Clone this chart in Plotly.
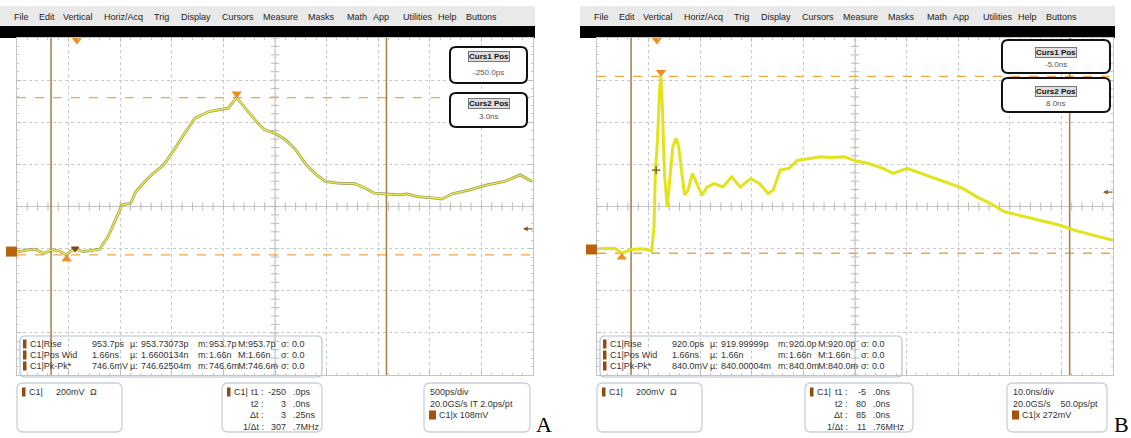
import numpy as np
import plotly.graph_objects as go

W, H = 1131, 438
FONT = "Liberation Sans"

# ---------------- data ----------------
menu_items = ["File", "Edit", "Vertical", "Horiz/Acq", "Trig", "Display", "Cursors",
              "Measure", "Masks", "Math", "App", "Utilities", "Help", "Buttons"]
menu_x = [12, 37, 61, 102, 152, 179, 220, 261, 306, 345, 371, 401, 436, 464]

# Panel A : time (ns), voltage (mV)
a_t = [-0.58, -0.556, -0.48, -0.405, -0.321, -0.236, -0.17, -0.10, -0.05, -0.017, 0.067, 0.14,
       0.219, 0.303, 0.387, 0.438, 0.522, 0.572, 0.673, 0.741, 0.842, 0.943, 1.044, 1.145,
       1.28, 1.381, 1.465, 1.549, 1.65, 1.752, 1.819, 1.92, 2.021, 2.122, 2.223, 2.324,
       2.409, 2.526, 2.695, 2.796, 2.88, 2.998, 3.133, 3.2, 3.301, 3.47, 3.537, 3.638,
       3.807, 3.975, 4.144, 4.295, 4.413]
a_v = [2, 0, 8, 11, -8, 8, 4, -16, 6, 11, 0, 6,
       11, 71, 166, 222, 230, 285, 340, 372, 412, 483, 562, 634,
       665, 673, 681, 730.6, 673, 610, 578, 562, 531, 483, 412, 364,
       333, 325, 322, 301, 277, 274, 269, 274, 261, 254, 249, 274,
       293, 317, 333, 364, 333]

# Panel B : time (ns), voltage (mV)
b_t = [-11.6, -10, -8.1, -6.8, -4.86, -2.7, -1.02, -0.55, -0.28, 0.12, 0.53, 0.80, 1.07,
       1.47, 2.01, 2.55, 3.09, 3.70, 4.24, 4.84, 5.38, 6.06, 6.86, 7.74, 8.75, 9.76,
       11.11, 12.8, 14.48, 16.16, 18.18, 19.87, 21.55, 22.56, 23.91, 25.6, 27.28, 29.64,
       31.66, 33.68, 36.38, 38.4, 41.1, 43.8, 45.81, 48.5, 51.2, 53.9, 56.6, 59.3, 62.0,
       64.7, 67.4, 70.07, 72.77, 75.46, 78.16, 80.85, 83.55, 86.24, 88.4]
b_v = [2, 6, 5, -18, 0, 3, -7, 107, 377, 519, 757, 822, 677,
       361, 202, 329, 487, 527, 487, 361, 258, 282, 361, 313, 258, 297,
       313, 297, 345, 297, 337, 313, 266, 282, 377, 385, 424, 432,
       440, 437, 440, 421, 408, 385, 361, 385, 361, 337, 313, 290, 250,
       218, 179, 163, 147, 131, 115, 92, 76, 60, 44]

a_cursors = [-0.25, 3.0]
b_cursors = [-5.0, 80.0]
a_trig_level = 108
b_trig_level = 272
a_edge_mark = (-0.017, 14)
b_edge_mark = (-0.14, 377)

a_meas = [["Rise", "953.7ps", "953.73073p", "953.7p", "953.7p", "0.0"],
          ["Pos Wid", "1.66ns", "1.6600134n", "1.66n", "1.66n", "0.0"],
          ["Pk-Pk*", "746.6mV", "746.62504m", "746.6m", "746.6m", "0.0"]]
b_meas = [["Rise", "920.0ps", "919.99999p", "920.0p", "920.0p", "0.0"],
          ["Pos Wid", "1.66ns", "1.66n", "1.66n", "1.66n", "0.0"],
          ["Pk-Pk*", "840.0mV", "840.00004m", "840.0m", "840.0m", "0.0"]]

cur_labels = ["t1 :", "t2 :", "\u0394t :", "1/\u0394t :"]
a_cur_int = ["-250", "3", "3", "307"]
a_cur_frac = [".0ps", ".0ns", ".25ns", ".7MHz"]
b_cur_int = ["-5", "80", "85", "11"]
b_cur_frac = [".0ns", ".0ns", ".0ns", ".76MHz"]

a_curs_box = ["-250.0ps", "3.0ns"]
b_curs_box = ["-5.0ns", "8.0ns"]

a_horiz = ["500ps/div", "20.0GS/s IT 2.0ps/pt", "C1|x 108mV"]
b_horiz = ["10.0ns/div", "20.0GS/s    50.0ps/pt", "C1|x 272mV"]

# ---------------- helpers ----------------
def X(px):
    return px / W


def Y(py):
    return 1 - py / H


shapes = []
annotations = []


def txt(px, py, s, size=9, anchor="left", color="#333333", family=FONT, **kw):
    annotations.append(dict(x=X(px), y=Y(py), xref="paper", yref="paper", text=s,
                            showarrow=False, xanchor=anchor, yanchor="middle",
                            font=dict(size=size, color=color, family=family), **kw))


def rect(x0, y0, x1, y1, fill, line=None, lw=0, layer="above"):
    shapes.append(dict(type="rect", xref="paper", yref="paper", x0=X(x0), x1=X(x1),
                       y0=Y(y1), y1=Y(y0), fillcolor=fill,
                       line=dict(color=line or fill, width=lw), layer=layer))


def rrect(x0, y0, x1, y1, r, color, lw, fill="rgba(0,0,0,0)", layer="above"):
    def p(a, b):
        return f"{X(a):.5f},{Y(b):.5f}"
    path = (f"M{p(x0 + r, y0)} L{p(x1 - r, y0)} Q{p(x1, y0)} {p(x1, y0 + r)} "
            f"L{p(x1, y1 - r)} Q{p(x1, y1)} {p(x1 - r, y1)} L{p(x0 + r, y1)} "
            f"Q{p(x0, y1)} {p(x0, y1 - r)} L{p(x0, y0 + r)} Q{p(x0, y0)} {p(x0 + r, y0)} Z")
    shapes.append(dict(type="path", xref="paper", yref="paper", path=path,
                       line=dict(color=color, width=lw), fillcolor=fill, layer=layer))


fig = go.Figure()

GRID_TOP, GRID_BOT = 38, 375
NDIV_X, NDIV_Y = 10, 8
panels = [
    dict(name="A", off=0, t=a_t, v=a_v, tdiv=0.5, tleft=-0.58, vdiv=200, gdiv=-1.07,
         cursors=a_cursors, trig=a_trig_level, edge=a_edge_mark, meas=a_meas,
         cint=a_cur_int, cfrac=a_cur_frac, cbox=a_curs_box, horiz=a_horiz,
         xa="x", ya="y", xk="xaxis", yk="yaxis"),
    dict(name="B", off=580, t=b_t, v=b_v, tdiv=10, tleft=-11.6, vdiv=200, gdiv=-1.02,
         cursors=b_cursors, trig=b_trig_level, edge=b_edge_mark, meas=b_meas,
         cint=b_cur_int, cfrac=b_cur_frac, cbox=b_curs_box, horiz=b_horiz,
         xa="x2", ya="y2", xk="xaxis2", yk="yaxis2"),
]

layout_axes = {}
for P in panels:
    o = P["off"]
    gx0, gx1 = 17 + o, 533 + o
    tl = P["tleft"]
    tr = tl + NDIV_X * P["tdiv"]
    vlo = (-NDIV_Y / 2 - P["gdiv"]) * P["vdiv"]
    vhi = (NDIV_Y / 2 - P["gdiv"]) * P["vdiv"]
    vpx = (vhi - vlo) / (GRID_BOT - GRID_TOP)   # mV per pixel
    tpx = (tr - tl) / (gx1 - gx0)               # ns per pixel
    xa, ya = P["xa"], P["ya"]

    layout_axes[P["xk"]] = dict(
        domain=[X(gx0), X(gx1)], range=[tl, tr], anchor=ya,
        showgrid=True, gridcolor="#c9c9c9", griddash="dot", gridwidth=1,
        tick0=tl, dtick=P["tdiv"], ticks="inside", ticklen=4, tickcolor="#bdbdbd",
        minor=dict(tick0=tl, dtick=P["tdiv"] / 5, ticks="inside", ticklen=2,
                   tickcolor="#c8c8c8", showgrid=False),
        showline=True, linecolor="#c4c4c4", linewidth=1, mirror="ticks",
        showticklabels=False, zeroline=False, fixedrange=True)
    layout_axes[P["yk"]] = dict(
        domain=[Y(GRID_BOT), Y(GRID_TOP)], range=[vlo, vhi], anchor=xa,
        showgrid=True, gridcolor="#c9c9c9", griddash="dot", gridwidth=1,
        tick0=vlo, dtick=P["vdiv"], ticks="inside", ticklen=4, tickcolor="#bdbdbd",
        minor=dict(tick0=vlo, dtick=P["vdiv"] / 5, ticks="inside", ticklen=2,
                   tickcolor="#c8c8c8", showgrid=False),
        showline=True, linecolor="#c4c4c4", linewidth=1, mirror="ticks",
        showticklabels=False, zeroline=False, fixedrange=True)

    # ---- menu bar & black bar ----
    rect(0 + o, 6, 535 + o, 26, "#e9e9e9", layer="below")
    rect(0 + o, 26, 535 + o, 38, "#000000", layer="below")
    for w, mx in zip(menu_items, menu_x):
        txt(mx + o, 16.5, w, size=9, color="#222222")

    # ---- center cross with tick marks ----
    tc = (tl + tr) / 2
    vc = (vlo + vhi) / 2
    shapes.append(dict(type="line", xref=xa, yref=ya, x0=tl, x1=tr, y0=vc, y1=vc,
                       line=dict(color="#c2c2c2", width=1), layer="below"))
    shapes.append(dict(type="line", xref=xa, yref=ya, x0=tc, x1=tc, y0=vlo, y1=vhi,
                       line=dict(color="#c2c2c2", width=1), layer="below"))
    tt = np.arange(NDIV_X * 5 + 1) * P["tdiv"] / 5 + tl
    vv = np.arange(NDIV_Y * 5 + 1) * P["vdiv"] / 5 + vlo
    fig.add_trace(go.Scatter(x=tt, y=[vc] * len(tt), mode="markers", xaxis=xa, yaxis=ya,
                             marker=dict(symbol="line-ns", size=6,
                                         line=dict(color="#bcbcbc", width=1)),
                             hoverinfo="skip", showlegend=False))
    fig.add_trace(go.Scatter(x=[tc] * len(vv), y=vv, mode="markers", xaxis=xa, yaxis=ya,
                             marker=dict(symbol="line-ew", size=6,
                                         line=dict(color="#bcbcbc", width=1)),
                             hoverinfo="skip", showlegend=False))

    # ---- measurement box (bottom-left inside graticule) ----
    rrect(20 + o, 336, 322 + o, 377, 5, "#b4c2d6", 1.2, fill="rgba(255,255,255,0.75)",
          layer="between")

    # ---- pk-pk reference lines ----
    vmax, vmin = max(P["v"]), min(P["v"])
    tmax = P["t"][P["v"].index(vmax)]
    tmin = P["t"][P["v"].index(vmin)]
    for lv in (vmax, vmin):
        shapes.append(dict(type="line", xref=xa, yref=ya, x0=tl, x1=tr, y0=lv, y1=lv,
                           line=dict(color="#f2a640", width=1.3, dash="dash"),
                           layer="between"))
    # ---- cursors ----
    for c in P["cursors"]:
        shapes.append(dict(type="line", xref=xa, yref=ya, x0=c, x1=c, y0=vlo, y1=vhi,
                           line=dict(color="#a27b48", width=1.5), layer="between"))

    # ---- ground marker ----
    shapes.append(dict(type="rect", xref="paper", yref=ya, x0=X(6 + o), x1=X(17 + o),
                       y0=-5 * vpx, y1=5 * vpx, fillcolor="#b8620f",
                       line=dict(width=0), layer="above"))

    # ---- waveform ----
    if P["name"] == "A":
        fig.add_trace(go.Scatter(x=P["t"], y=P["v"], mode="lines", xaxis=xa, yaxis=ya,
                                 line=dict(color="rgba(110,110,40,0.7)", width=2.8),
                                 hoverinfo="skip", showlegend=False))
        fig.add_trace(go.Scatter(x=P["t"], y=P["v"], mode="lines", xaxis=xa, yaxis=ya,
                                 line=dict(color="#eded3a", width=1.4),
                                 hoverinfo="skip", showlegend=False))
    else:
        fig.add_trace(go.Scatter(x=P["t"], y=P["v"], mode="lines", xaxis=xa, yaxis=ya,
                                 line=dict(color="#e3e31c", width=3),
                                 hoverinfo="skip", showlegend=False))

    # ---- markers: peak / min / trigger / edge ----
    fig.add_trace(go.Scatter(x=[tmax], y=[vmax + 4 * vpx], mode="markers", xaxis=xa, yaxis=ya,
                             marker=dict(symbol="triangle-down", size=9, color="#f08c22"),
                             hoverinfo="skip", showlegend=False, cliponaxis=False))
    fig.add_trace(go.Scatter(x=[tmin], y=[vmin - 4 * vpx], mode="markers", xaxis=xa, yaxis=ya,
                             marker=dict(symbol="triangle-up", size=9, color="#f08c22"),
                             hoverinfo="skip", showlegend=False, cliponaxis=False))
    fig.add_trace(go.Scatter(x=[0], y=[vhi - 2 * vpx], mode="markers", xaxis=xa, yaxis=ya,
                             marker=dict(symbol="triangle-down", size=9, color="#f08c22"),
                             hoverinfo="skip", showlegend=False, cliponaxis=False))
    fig.add_trace(go.Scatter(x=[P["edge"][0]], y=[P["edge"][1]], mode="markers",
                             xaxis=xa, yaxis=ya,
                             marker=dict(symbol="triangle-down" if P["name"] == "A" else "cross-thin",
                                         size=6, color="#7a4a1a",
                                         line=dict(color="#7a4a1a", width=1.2)),
                             hoverinfo="skip", showlegend=False))
    # trigger level arrow on right edge
    annotations.append(dict(x=tr - 10 * tpx, y=P["trig"], xref=xa, yref=ya, text="",
                            showarrow=True, ax=11, ay=0, arrowhead=2, arrowsize=0.8,
                            arrowwidth=1.2, arrowcolor="#8a5a2a"))

    # ---- measurement text ----
    cols = [28, 90, 128, 139, 196, 207, 236, 246, 279, 290]
    for i, row in enumerate(P["meas"]):
        ry = 344 + 11 * i
        rect(23 + o, ry - 4.5, 26.5 + o, ry + 4.5, "#8e4c12", layer="above")
        txt(cols[0] + o, ry, "C1|" + row[0])
        txt(cols[1] + o, ry, row[1])
        txt(cols[2] + o, ry, "\u00b5:")
        txt(cols[3] + o, ry, row[2])
        txt(cols[4] + o, ry, "m:")
        txt(cols[5] + o, ry, row[3])
        txt(cols[6] + o, ry, "M:")
        txt(cols[7] + o, ry, row[4])
        txt(cols[8] + o, ry, "\u03c3:")
        txt(cols[9] + o, ry, row[5])

    # ---- cursor position boxes ----
    if P["name"] == "A":
        bx0, bx1 = 450, 527
        b1, b2 = (47, 83), (93, 127)
        ty = [57, 72, 103, 116]
    else:
        bx0, bx1 = 1002, 1110
        b1, b2 = (40, 73), (78, 112)
        ty = [52, 65, 91, 103]
    bxc = (bx0 + bx1) / 2
    for (yy0, yy1) in (b1, b2):
        rrect(bx0, yy0, bx1, yy1, 6, "#111111", 2, fill="#ffffff", layer="above")
    for k, (lab, val) in enumerate(zip(["Curs1 Pos", "Curs2 Pos"], P["cbox"])):
        annotations.append(dict(x=X(bxc), y=Y(ty[2 * k]), xref="paper", yref="paper",
                                text="<b>" + lab + "</b>", showarrow=False,
                                xanchor="center", yanchor="middle", bgcolor="#dedede",
                                bordercolor="#777777", borderwidth=1, borderpad=0,
                                font=dict(size=8, color="#111111", family=FONT)))
        txt(bxc, ty[2 * k + 1], val, size=8, anchor="center", color="#555555")

    # ---- bottom info boxes ----
    if P["name"] == "A":
        boxes = [(17, 122), (222, 322), (424, 530)]
        lab_r, int_r, frac_l = 266, 288, 291
    else:
        boxes = [(597, 702), (805, 913), (1007, 1107)]
        lab_r, int_r, frac_l = 850, 868, 871
    for (x0, x1) in boxes:
        rrect(x0, 383, x1, 432, 6, "#c9d0da", 1.3, fill="#ffffff", layer="above")
    rows = [392, 403.5, 415, 426.5]
    # box 1
    b0 = boxes[0][0]
    rect(b0 + 5, rows[0] - 4.5, b0 + 8.5, rows[0] + 4.5, "#8e4c12")
    txt(b0 + 10, rows[0], "C1|")
    txt(b0 + 37, rows[0], "200mV")
    txt(b0 + 71, rows[0], "\u03a9")
    # box 2
    b0 = boxes[1][0]
    rect(b0 + 5, rows[0] - 4.5, b0 + 8.5, rows[0] + 4.5, "#8e4c12")
    txt(b0 + 10, rows[0], "C1|")
    for i in range(4):
        txt(lab_r, rows[i], cur_labels[i], anchor="right")
        txt(int_r, rows[i], P["cint"][i], anchor="right")
        txt(frac_l, rows[i], P["cfrac"][i], anchor="left")
    # box 3
    b0 = boxes[2][0]
    txt(b0 + 4, rows[0], P["horiz"][0])
    txt(b0 + 4, rows[1], P["horiz"][1])
    rect(b0 + 5, rows[2] - 4.5, b0 + 12, rows[2] + 4.5, "#a5520f")
    txt(b0 + 13, rows[2], P["horiz"][2])

    # panel letter
    txt((534 if P["name"] == "A" else 1112), 424, P["name"], size=22,
        family="Liberation Serif", color="#000000")

fig.update_layout(
    width=W, height=H, margin=dict(l=0, r=0, t=0, b=0),
    paper_bgcolor="#ffffff", plot_bgcolor="#ffffff",
    shapes=shapes, annotations=annotations, showlegend=False,
    **layout_axes)

fig.write_html("out.html", config={"displayModeBar": False, "staticPlot": True},
               post_script="document.body.style.margin='0';document.body.style.padding='0';")
